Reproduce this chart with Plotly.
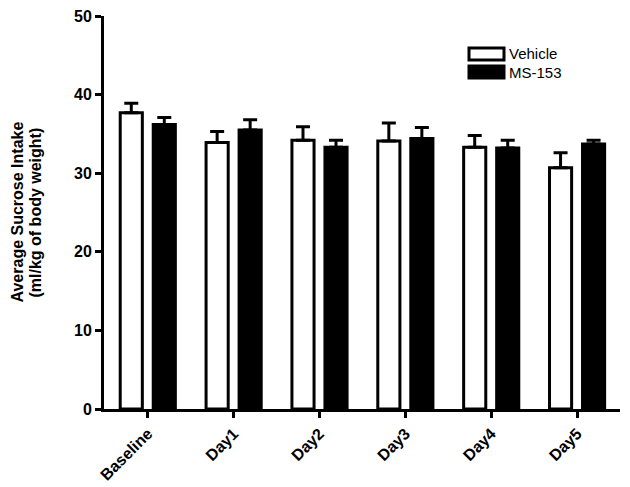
import plotly.graph_objects as go

# data
days = ['Baseline', 'Day1', 'Day2', 'Day3', 'Day4', 'Day5']
vehicle = [37.7, 33.9, 34.2, 34.1, 33.3, 30.7]
vehicle_err = [1.2, 1.4, 1.7, 2.3, 1.5, 1.9]
ms153 = [36.2, 35.5, 33.3, 34.4, 33.2, 33.7]
ms153_err = [0.9, 1.3, 0.9, 1.4, 1.0, 0.5]

FONT = 'Liberation Sans, Arial, sans-serif'
PLOT_W, PLOT_H = 516, 393

# page body has an 8px margin, so the figure is sized to end at the window edge
fig = go.Figure()

fig.add_trace(go.Bar(
    x=days, y=vehicle, name='Vehicle',
    marker=dict(color='white', line=dict(color='black', width=3)),
    error_y=dict(type='data', array=vehicle_err, symmetric=False,
                 arrayminus=[0] * len(days), color='black', thickness=3, width=7),
))
fig.add_trace(go.Bar(
    x=days, y=ms153, name='MS-153',
    marker=dict(color='black', line=dict(color='black', width=3)),
    error_y=dict(type='data', array=ms153_err, symmetric=False,
                 arrayminus=[0] * len(days), color='black', thickness=3, width=7),
))

fig.update_layout(
    width=622, height=479,
    margin=dict(l=96, r=10, t=8, b=78, autoexpand=False),
    plot_bgcolor='white', paper_bgcolor='white',
    barmode='group', bargap=0.231, bargroupgap=0.33,
    showlegend=False,
    font=dict(family=FONT, color='black'),
)

fig.update_xaxes(
    range=[-0.51, 5.5], automargin=False,
    showline=True, linecolor='black', linewidth=3,
    ticks='outside', ticklen=6, tickwidth=2.5, tickcolor='black',
    tickangle=-45, tickfont=dict(size=16, family=FONT, weight='bold'),
    showgrid=False, zeroline=False,
)
fig.update_yaxes(
    range=[0, 50], dtick=10, automargin=False, ticklabeloverflow='allow',
    showline=True, linecolor='black', linewidth=3,
    ticks='outside', ticklen=6, tickwidth=2.5, tickcolor='black',
    tickfont=dict(size=16, family=FONT, weight='bold'),
    showgrid=False, zeroline=False,
)

# two-line y axis title, one annotation per line for tight spacing
title_lines = [('Average Sucrose Intake', -87), ('(ml/kg of body weight)', -69)]
for text, xpx in title_lines:
    fig.add_annotation(text=text, xref='paper', yref='paper',
                       x=xpx / PLOT_W, y=0.5,
                       xanchor='center', yanchor='middle', textangle=-90,
                       showarrow=False,
                       font=dict(size=16, family=FONT, weight='bold'))

# legend drawn as boxes + labels to match the wide swatches of the original
legend_items = [('Vehicle', 'white', 54), ('MS-153', 'black', 72)]
for label, fill, ypx in legend_items:
    fig.add_shape(type='rect', xref='paper', yref='paper',
                  x0=(469 - 104) / PLOT_W, x1=(504 - 104) / PLOT_W,
                  y0=(409 - ypx - 6) / PLOT_H, y1=(409 - ypx + 6) / PLOT_H,
                  fillcolor=fill, line=dict(color='black', width=3))
    fig.add_annotation(text=label, xref='paper', yref='paper',
                       x=(507 - 104) / PLOT_W, y=(409 - ypx) / PLOT_H,
                       xanchor='left', yanchor='middle', showarrow=False,
                       font=dict(size=15, family=FONT))

fig.write_html('out.html')
